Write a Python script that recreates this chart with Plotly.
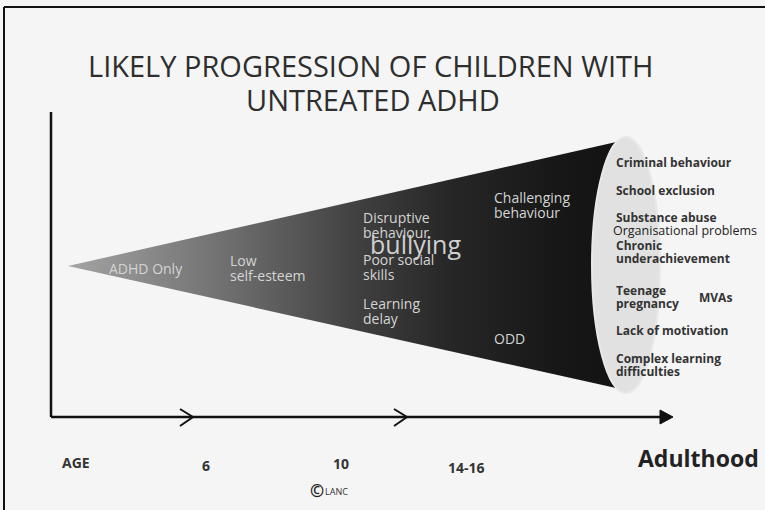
import plotly.graph_objects as go

# ---- content ----
title_lines = ["LIKELY PROGRESSION OF CHILDREN WITH", "UNTREATED ADHD"]
stage_labels = ["ADHD Only", "Low<br>self-esteem", "Disruptive<br>behaviour", "Poor social<br>skills",
                "Learning<br>delay", "Challenging<br>behaviour", "ODD"]
outcome_labels = ["Criminal behaviour", "School exclusion", "Substance abuse",
                  "Chronic<br>underachievement", "Teenage<br>pregnancy", "Lack of motivation",
                  "Complex learning<br>difficulties"]
extra_outcomes = ["Organisational problems", "MVAs"]
emphasis_label = "bullying"
age_labels = ["AGE", "6", "10", "14-16"]
end_label = "Adulthood"
credit_label = "LANC"

# ---- layout positions (pixel space of a 765x510 canvas); y = first text line ----
stage_pos = [(107, 268), (228, 260), (361, 217), (361, 259), (361, 303), (492, 197), (492, 338)]
outcome_pos = [(614, 162), (614, 190), (614, 217), (614, 245), (614, 290), (614, 330), (614, 358)]
extra_pos = [(611, 230), (697, 297)]
age_pos = [(60, 462), (200, 465), (331, 463), (446, 467)]
STAGE_STEP = 15
OUT_STEP = 13.5

FONT = "Open Sans"
BG = "#f5f5f5"

fig = go.Figure()

# cone body with horizontal gradient
apex = (68, 266)
fig.add_trace(go.Scatter(
    x=[apex[0], 625, 625, apex[0]], y=[apex[1], 140, 390, apex[1]],
    mode="lines", line=dict(width=0), fill="toself",
    fillgradient=dict(type="horizontal",
                      colorscale=[[0, "#a4a4a4"], [0.29, "#6e6e6e"], [0.52, "#404040"],
                                  [0.69, "#262626"], [0.88, "#171717"], [1, "#121212"]]),
    hoverinfo="skip", showlegend=False))

shapes = []
# end cap ellipse
shapes.append(dict(type="circle", x0=592, x1=660, y0=137, y1=393,
                   fillcolor="#e1e1e1", line=dict(color="#e8e8e8", width=2), layer="above"))
# frame
shapes.append(dict(type="line", x0=4, x1=765, y0=7, y1=7, line=dict(color="#111", width=2)))
shapes.append(dict(type="line", x0=4, x1=4, y0=7, y1=510, line=dict(color="#111", width=2)))
# axes
shapes.append(dict(type="line", x0=51, x1=51, y0=112, y1=417, line=dict(color="#111", width=2.5)))
shapes.append(dict(type="line", x0=51, x1=664, y0=417, y1=417, line=dict(color="#111", width=2.5)))
shapes.append(dict(type="path", path="M 660 410 L 673 417 L 660 424 Z",
                   fillcolor="#111", line=dict(color="#111", width=1)))
for cx in (193, 407):
    shapes.append(dict(type="path", path=f"M {cx-13} 409 L {cx} 417 L {cx-13} 426",
                       line=dict(color="#111", width=2)))

ann = []


def add_text(text, x, y, step, **font):
    for i, line in enumerate(text.split("<br>")):
        ann.append(dict(x=x, y=y + i * step, text=line, xanchor="left", font=dict(family=FONT, **font)))


ann.append(dict(x=370, y=65, text=title_lines[0], font=dict(family=FONT, size=29, color="#2e2e2e")))
ann.append(dict(x=373, y=99, text=title_lines[1], font=dict(family=FONT, size=29, color="#2e2e2e")))
for t, (x, y) in zip(stage_labels, stage_pos):
    add_text(t, x, y, STAGE_STEP, size=14, color="#d4d4d4")
ann.append(dict(x=368, y=244, text=emphasis_label, xanchor="left",
                font=dict(family=FONT, size=25, color="#d0d0d0")))
for t, (x, y) in zip(outcome_labels, outcome_pos):
    add_text(t, x, y, OUT_STEP, size=12, color="#333333", weight="bold")
add_text(extra_outcomes[0], extra_pos[0][0], extra_pos[0][1], OUT_STEP, size=12.5, color="#222222")
add_text(extra_outcomes[1], extra_pos[1][0], extra_pos[1][1], OUT_STEP, size=12, color="#333333",
         weight="bold")
for t, (x, y) in zip(age_labels, age_pos):
    add_text(t, x, y, 0, size=14, color="#333333", weight="bold")
ann.append(dict(x=636, y=458, text=end_label, xanchor="left",
                font=dict(family=FONT, size=23, color="#222222", weight="bold")))
ann.append(dict(x=308, y=490, text="©", xanchor="left",
                font=dict(family=FONT, size=17, color="#222222", weight="bold")))
ann.append(dict(x=323, y=491, text=credit_label, xanchor="left",
                font=dict(family=FONT, size=9, color="#333333")))
for a in ann:
    a.update(xref="x", yref="y", showarrow=False, yanchor="middle")

fig.update_layout(
    width=765, height=510, margin=dict(l=0, r=0, t=0, b=0),
    paper_bgcolor=BG, plot_bgcolor=BG,
    xaxis=dict(range=[0, 765], visible=False, fixedrange=True),
    yaxis=dict(range=[510, 0], visible=False, fixedrange=True),
    shapes=shapes, annotations=ann, showlegend=False,
)
fig.write_html("out.html", config={"displayModeBar": False},
               post_script="document.body.style.margin='0';document.body.style.overflow='hidden';")
